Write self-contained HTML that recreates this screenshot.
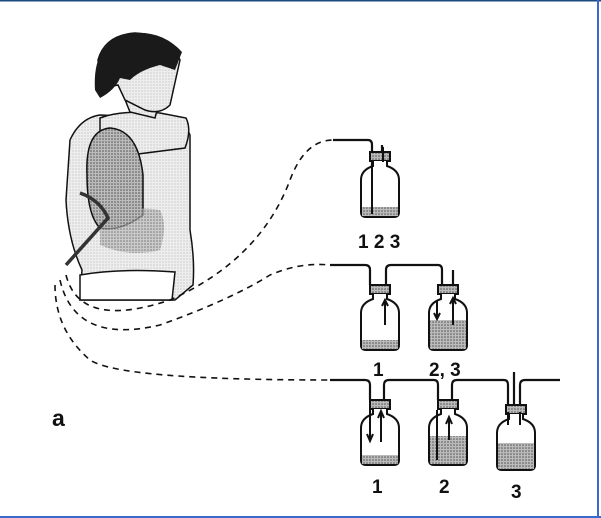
<!DOCTYPE html>
<html><head><style>
html,body{margin:0;padding:0;background:#fff}
svg{display:block}
text{font-family:"Liberation Sans",sans-serif;font-weight:bold;fill:#111}
</style></head><body>
<svg width="601" height="518" viewBox="0 0 601 518" xmlns="http://www.w3.org/2000/svg">
<defs>
<pattern id="dots" width="3" height="3" patternUnits="userSpaceOnUse"><rect width="3" height="3" fill="#bbb"/><circle cx="1" cy="1" r="0.8" fill="#555"/></pattern>
<pattern id="light" width="3" height="3" patternUnits="userSpaceOnUse"><rect width="3" height="3" fill="#eee"/><circle cx="1" cy="1" r="0.5" fill="#999"/></pattern>
<g id="bottle">
<rect x="10" y="0" width="20" height="9" fill="url(#dots)" stroke="#111" stroke-width="2"/>
<path d="M13 9 L13 14 Q1 18 1 28 L1 60 Q1 65 6 65 L34 65 Q39 65 39 60 L39 28 Q39 18 27 14 L27 9" fill="#fff" stroke="#111" stroke-width="2"/>
</g>
</defs>
<rect x="0" y="0" width="601" height="518" fill="#fff"/>
<line x1="0" y1="0.5" x2="601" y2="0.5" stroke="#1a4a80" stroke-width="2"/>
<line x1="598" y1="0" x2="598" y2="518" stroke="#3a6ad0" stroke-width="2"/>
<line x1="0" y1="517" x2="601" y2="517" stroke="#3a6ad0" stroke-width="2"/>

<!-- person -->
<path d="M70 140 Q80 118 100 115 L165 118 Q185 122 190 135 L190 230 Q195 260 193 285 L175 300 L80 300 L82 270 Q68 240 66 200 Z" fill="url(#light)" stroke="#111" stroke-width="1.5"/>
<path d="M100 118 Q120 110 160 113 L186 118 Q192 130 185 148 L130 155 Q110 150 100 140 Z" fill="url(#light)" stroke="#111" stroke-width="1.5"/>
<path d="M118 80 Q125 100 130 112 L155 118 L162 90 Z" fill="url(#light)" stroke="#111" stroke-width="1.5"/>
<path d="M98 60 Q105 35 135 33 Q170 35 180 60 L170 105 Q160 115 145 110 L125 100 L118 85 Q100 90 98 60 Z" fill="url(#light)" stroke="#111" stroke-width="1.5"/>
<path d="M95 90 Q92 45 125 34 Q160 28 182 52 L175 70 L160 65 Q140 70 130 80 L120 78 Q115 90 100 98 Z" fill="#1a1a1a"/>
<path d="M87 175 Q85 130 110 128 Q138 130 143 175 L143 215 Q120 232 100 228 Q87 215 87 175 Z" fill="url(#dots)" stroke="#111" stroke-width="1.5"/>
<path d="M100 215 Q130 205 160 210 Q168 225 160 250 Q130 258 100 245 Z" fill="url(#dots)" opacity="0.7"/>
<path d="M80 275 Q120 268 175 272 L172 300 L80 300 Z" fill="#fff" stroke="#111" stroke-width="1.5"/>
<path d="M80 193 Q100 200 108 218 L66 265" fill="none" stroke="#333" stroke-width="3.5"/>

<!-- dashed connectors -->
<g fill="none" stroke="#111" stroke-width="1.6" stroke-dasharray="6,5">
<path d="M66 275 Q80 330 170 300 Q260 260 290 180 Q305 140 333 140"/>
<path d="M60 280 Q75 345 160 325 Q230 300 270 275 Q300 262 330 265"/>
<path d="M55 285 Q55 330 90 360 Q120 380 330 380"/>
</g>

<!-- top row -->
<g fill="none" stroke="#111" stroke-width="2.2">
<path d="M333 140 L368 140 Q372 140 372 145 L372 215"/>
<line x1="382" y1="145" x2="382" y2="160"/>
</g>
<use href="#bottle" x="360" y="152"/>
<rect x="362" y="207" width="36" height="9" fill="url(#dots)"/>
<line x1="372" y1="160" x2="372" y2="214" stroke="#111" stroke-width="2"/>
<line x1="383" y1="147" x2="383" y2="162" stroke="#111" stroke-width="2"/>
<text x="358" y="248" font-size="19">1 2 3</text>

<!-- middle row -->
<path d="M330 265 L365 265 Q370 265 370 270 L370 285 M386 285 L386 270 Q386 265 391 265 L438 265 Q442 265 442 270 L442 290 M453 270 L453 300" fill="none" stroke="#111" stroke-width="2.2"/>
<use href="#bottle" x="360" y="285"/>
<rect x="362" y="340" width="36" height="9" fill="url(#dots)"/>
<use href="#bottle" x="428" y="285"/>
<rect x="430" y="320" width="36" height="29" fill="url(#dots)"/>
<path d="M385 300 L385 325 M382 306 L385 300 L388 306" stroke="#111" stroke-width="2" fill="none"/>
<path d="M437 300 L437 318 M434 313 L437 319 L440 313" stroke="#111" stroke-width="2" fill="none"/>
<path d="M453 298 L453 325 M450 304 L453 298 L456 304" stroke="#111" stroke-width="2" fill="none"/>
<text x="373" y="376" font-size="19">1</text>
<text x="429" y="376" font-size="19">2, 3</text>

<!-- bottom row -->
<path d="M330 380 L365 380 Q370 380 370 385 L370 400 M384 400 L384 385 Q384 380 389 380 L434 380 Q438 380 438 385 L438 400 M452 400 L452 385 Q452 380 457 380 L504 380 Q508 380 508 385 L508 405 M520 405 L520 385 Q520 380 525 380 L560 380 M514 372 L514 452" fill="none" stroke="#111" stroke-width="2.2"/>
<use href="#bottle" x="360" y="400"/>
<rect x="362" y="455" width="36" height="9" fill="url(#dots)"/>
<use href="#bottle" x="428" y="400"/>
<rect x="430" y="436" width="36" height="28" fill="url(#dots)"/>
<use href="#bottle" x="496" y="405"/>
<rect x="498" y="443" width="36" height="26" fill="url(#dots)"/>
<path d="M370 408 L370 440 M367 434 L370 441 L373 434" stroke="#111" stroke-width="2" fill="none"/>
<path d="M381 442 L381 412 M378 418 L381 411 L384 418" stroke="#111" stroke-width="2" fill="none"/>
<line x1="437" y1="410" x2="437" y2="460" stroke="#111" stroke-width="2"/>
<path d="M449 440 L449 418 M446 424 L449 417 L452 424" stroke="#111" stroke-width="2" fill="none"/>
<line x1="508" y1="412" x2="508" y2="425" stroke="#111" stroke-width="2"/>
<line x1="520" y1="412" x2="520" y2="425" stroke="#111" stroke-width="2"/>
<text x="372" y="493" font-size="19">1</text>
<text x="439" y="493" font-size="19">2</text>
<text x="511" y="498" font-size="19">3</text>

<text x="52" y="426" font-size="23">a</text>
</svg>
</body></html>
